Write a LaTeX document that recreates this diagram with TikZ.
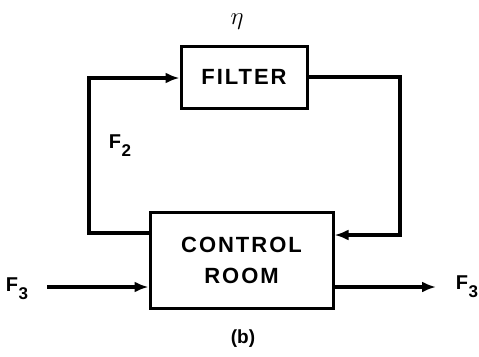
\documentclass[tikz,border=0pt]{standalone}
\usepackage{fontspec}
\setmainfont{Liberation Sans}
\usetikzlibrary{arrows.meta}
\newcommand{\fsub}[1]{F\kern0.5pt\raisebox{-8pt}{\fontsize{17}{17}\selectfont #1}}
\tikzset{
  blk/.style={draw, line width=3pt, minimum width=#1, inner sep=0pt, align=center,
    font=\fontsize{22}{31}\selectfont\bfseries\addfontfeature{LetterSpace=9}},
  wire/.style={line width=3.2pt},
  arr/.style={wire, -{Latex[length=14pt,width=11pt]}},
  lbl/.style={font=\fontsize{20}{24}\selectfont\bfseries, inner sep=0pt}
}
\begin{document}
\begin{tikzpicture}[x=1pt,y=-1pt]
\useasboundingbox (0,0) rectangle (479,356);
\node[blk=126pt, minimum height=62pt] (filter) at (244,77) {FILTER};
\node[blk=183pt, minimum height=96pt] (ctrl) at (241.5,260) {CONTROL\\ROOM};
\node[font=\fontsize{24}{24}\selectfont, inner sep=0pt] (eta) at (237,22) {$\eta$};
\node[lbl] (f2) at (120,146) {\fsub{2}};
\node[lbl] (f3in) at (17,289) {\fsub{3}};
\node[lbl] (f3out) at (467,287) {\fsub{3}};
\node[font=\fontsize{19}{19}\selectfont\bfseries, inner sep=0pt] (cap) at (243,339) {(b)};
\coordinate (lt) at (89,78);
\coordinate (lb) at (89,233);
\coordinate (rt) at (400,77);
\coordinate (rb) at (400,235);
\coordinate (inS) at (47,287);
\coordinate (outE) at (436,287);
\draw[arr] (ctrl.west |- lb) -- (lb) -- (lt) -- (filter.west |- lt);
\draw[arr] (filter.east |- rt) -- (rt) -- (rb) -- (ctrl.east |- rb);
\draw[arr] (inS) -- (ctrl.west |- inS);
\draw[arr] (ctrl.east |- outE) -- (outE);
\end{tikzpicture}
\end{document}
